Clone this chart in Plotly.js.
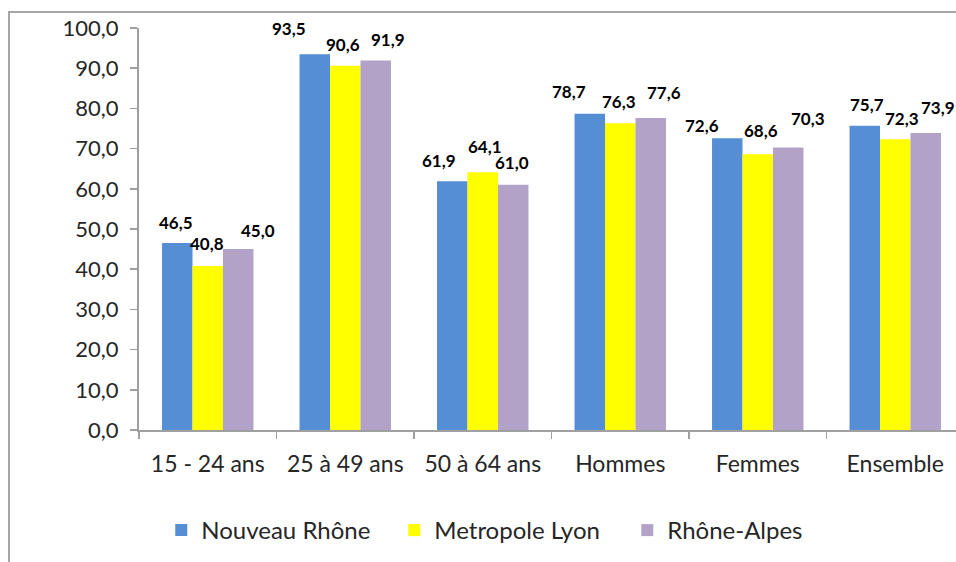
<!DOCTYPE html>
<html>
<head>
<meta charset="utf-8">
<script src="https://cdn.plot.ly/plotly-3.0.1.min.js"></script>
<style>
html, body { margin: 0; padding: 0; width: 956px; height: 562px; overflow: hidden; background: #fff; }
#frame { position: absolute; left: 8px; top: 11px; width: 1000px; height: 600px; border-left: 2px solid #a6a6a6; border-top: 2px solid #a6a6a6; }
#chart { position: absolute; left: 0; top: 0; width: 972px; height: 562px; }
</style>
</head>
<body>
<div id="frame"></div>
<div id="chart"></div>
<script>
// Data
const categories = ["15 - 24 ans", "25 à 49 ans", "50 à 64 ans", "Hommes", "Femmes", "Ensemble"];
const seriesNames = ["Nouveau Rhône", "Metropole Lyon", "Rhône-Alpes"];
const nouveauRhone = [46.5, 93.5, 61.9, 78.7, 72.6, 75.7];
const metropoleLyon = [40.8, 90.6, 64.1, 76.3, 68.6, 72.3];
const rhoneAlpes = [45.0, 91.9, 61.0, 77.6, 70.3, 73.9];
const yTickValues = [0, 10, 20, 30, 40, 50, 60, 70, 80, 90, 100];

// Styles
const colors = ["#558ED5", "#FFFF00", "#B3A2C7"];
// per-label pixel nudges (label placement as in the original)
const labelDx = [
  [-1, -26, -13, -21, -25, 2],
  [-1, -2, 2, -1, 3, 7],
  [20, 12, -1, 13, 20, 12]
];
const labelDy = [
  [21, 26, 21, 22, 13, 21],
  [22, 21, 26, 22, 24, 21],
  [19, 21, 22, 26, 29, 25]
];

const allSeries = [nouveauRhone, metropoleLyon, rhoneAlpes];
const fmt = v => v.toFixed(1).replace('.', ',');
const FONT = "Lato, 'Open Sans', sans-serif";

const traces = allSeries.map((vals, i) => ({
  type: 'bar',
  name: seriesNames[i],
  x: categories,
  y: vals,
  marker: { color: colors[i], line: { width: 0 } },
  hoverinfo: 'none'
}));

const plotW = 972 - 139 - 8;
const catW = plotW / categories.length;
const barGap = 0.335;
const barW = catW * (1 - barGap) / 3;

const annotations = [];
allSeries.forEach((vals, i) => {
  vals.forEach((v, j) => {
    annotations.push({
      x: categories[j], y: v, xref: 'x', yref: 'y',
      text: fmt(v), showarrow: false,
      xanchor: 'center', yanchor: 'middle',
      xshift: (i - 1) * barW + labelDx[i][j],
      yshift: labelDy[i][j],
      font: { family: FONT, size: 17, color: '#000', weight: 'bold' }
    });
  });
});

const layout = {
  width: 972, height: 562,
  margin: { l: 139, r: 8, t: 28, b: 132 },
  paper_bgcolor: 'rgba(0,0,0,0)',
  plot_bgcolor: 'rgba(0,0,0,0)',
  barmode: 'group',
  bargap: barGap,
  bargroupgap: 0,
  showlegend: true,
  legend: {
    orientation: 'h', x: 0.027, xanchor: 'left', y: -0.25, yanchor: 'middle',
    entrywidth: 188, entrywidthmode: 'pixels',
    font: { family: FONT, size: 24, color: '#262626' },
    itemclick: false, itemdoubleclick: false
  },
  xaxis: {
    type: 'category',
    showline: true, linecolor: '#a0a0a0', linewidth: 2,
    ticks: 'outside', ticklen: 7, tickcolor: '#a0a0a0', tickwidth: 1.5,
    tickson: 'boundaries',
    ticklabelstandoff: 12,
    tickfont: { family: FONT, size: 23, color: '#262626' },
    showgrid: false, zeroline: false, fixedrange: true
  },
  yaxis: {
    range: [0, 100],
    tickvals: yTickValues,
    ticktext: yTickValues.map(fmt),
    showline: true, linecolor: '#a0a0a0', linewidth: 2,
    ticks: 'outside', ticklen: 7, tickcolor: '#a0a0a0', tickwidth: 1.5,
    ticklabelstandoff: 7,
    tickfont: { family: FONT, size: 22, color: '#262626' },
    showgrid: false, zeroline: false, fixedrange: true
  },
  annotations: annotations,
  font: { family: FONT }
};

Plotly.newPlot('chart', traces, layout, { displayModeBar: false, staticPlot: true });
</script>
</body>
</html>
